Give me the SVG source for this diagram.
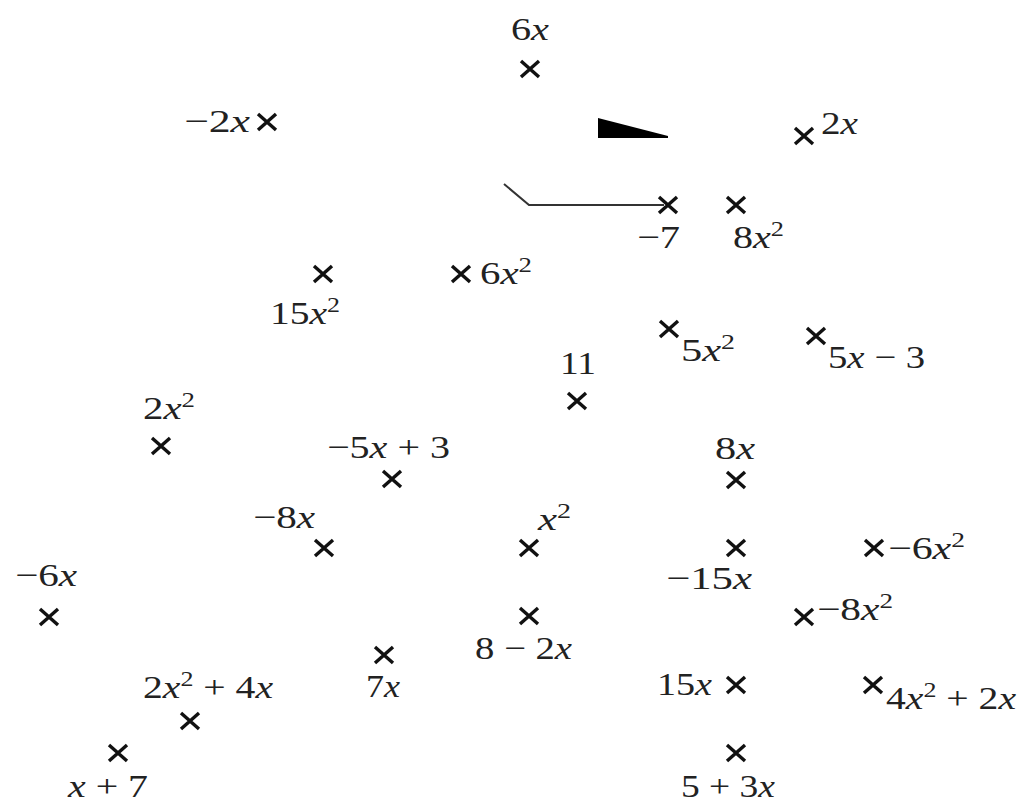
<svg xmlns="http://www.w3.org/2000/svg" width="1025" height="798" viewBox="0 0 1025 798">
<defs>
<style>
text{font-family:"Liberation Serif","DejaVu Serif",serif;font-size:32px;fill:#222}
.i{font-style:italic}
.s{font-size:21px}
.x{stroke:#111;stroke-width:3.4;fill:none}
</style>
<path id="cx" class="x" d="M-9,-8L9,8M9,-8L-9,8"/>
</defs>
<rect width="1025" height="798" fill="#fff"/>
<g id="connectors">
<polyline points="504,184 529,205 664,205" fill="none" stroke="#333" stroke-width="2"/>
<polygon points="598,118 668,136 668,138 598,138" fill="#000"/>
</g>
<g id="n-6x"><use href="#cx" x="530" y="69"/><text x="511" y="40" textLength="38" lengthAdjust="spacingAndGlyphs">6<tspan class="i">x</tspan></text></g>
<g id="n-m2x"><use href="#cx" x="267" y="122"/><text x="184" y="132" textLength="66" lengthAdjust="spacingAndGlyphs">−2<tspan class="i">x</tspan></text></g>
<g id="n-2x"><use href="#cx" x="804" y="136"/><text x="821" y="134" textLength="37" lengthAdjust="spacingAndGlyphs">2<tspan class="i">x</tspan></text></g>
<g id="n-m7"><use href="#cx" x="668" y="205"/><text x="637" y="248" textLength="43" lengthAdjust="spacingAndGlyphs">−7</text></g>
<g id="n-8x2"><use href="#cx" x="736" y="205"/><text x="733" y="248" textLength="51" lengthAdjust="spacingAndGlyphs">8<tspan class="i">x</tspan><tspan class="s" dy="-12">2</tspan></text></g>
<g id="n-15x2"><use href="#cx" x="323" y="274"/><text x="270" y="324" textLength="70" lengthAdjust="spacingAndGlyphs">15<tspan class="i">x</tspan><tspan class="s" dy="-12">2</tspan></text></g>
<g id="n-6x2"><use href="#cx" x="461" y="274"/><text x="480" y="284" textLength="52" lengthAdjust="spacingAndGlyphs">6<tspan class="i">x</tspan><tspan class="s" dy="-12">2</tspan></text></g>
<g id="n-5x2"><use href="#cx" x="669" y="329"/><text x="681" y="361" textLength="54" lengthAdjust="spacingAndGlyphs">5<tspan class="i">x</tspan><tspan class="s" dy="-12">2</tspan></text></g>
<g id="n-5xm3"><use href="#cx" x="816" y="336"/><text x="828" y="368" textLength="97" lengthAdjust="spacingAndGlyphs">5<tspan class="i">x</tspan> − 3</text></g>
<g id="n-11"><use href="#cx" x="577" y="401"/><text x="560" y="374" textLength="36" lengthAdjust="spacingAndGlyphs">11</text></g>
<g id="n-2x2"><use href="#cx" x="161" y="446"/><text x="143" y="419" textLength="52" lengthAdjust="spacingAndGlyphs">2<tspan class="i">x</tspan><tspan class="s" dy="-12">2</tspan></text></g>
<g id="n-m5xp3"><use href="#cx" x="392" y="479"/><text x="327" y="458" textLength="123" lengthAdjust="spacingAndGlyphs">−5<tspan class="i">x</tspan> + 3</text></g>
<g id="n-8x"><use href="#cx" x="736" y="480"/><text x="715" y="459" textLength="40" lengthAdjust="spacingAndGlyphs">8<tspan class="i">x</tspan></text></g>
<g id="n-m8x"><use href="#cx" x="324" y="548"/><text x="253" y="528" textLength="62" lengthAdjust="spacingAndGlyphs">−8<tspan class="i">x</tspan></text></g>
<g id="n-x2"><use href="#cx" x="529" y="548"/><text x="538" y="530" textLength="33" lengthAdjust="spacingAndGlyphs"><tspan class="i">x</tspan><tspan class="s" dy="-12">2</tspan></text></g>
<g id="n-m15x"><use href="#cx" x="736" y="548"/><text x="666" y="589" textLength="86" lengthAdjust="spacingAndGlyphs">−15<tspan class="i">x</tspan></text></g>
<g id="n-m6x2"><use href="#cx" x="874" y="548"/><text x="888" y="559" textLength="77" lengthAdjust="spacingAndGlyphs">−6<tspan class="i">x</tspan><tspan class="s" dy="-12">2</tspan></text></g>
<g id="n-m6x"><use href="#cx" x="49" y="617"/><text x="15" y="586" textLength="62" lengthAdjust="spacingAndGlyphs">−6<tspan class="i">x</tspan></text></g>
<g id="n-8m2x"><use href="#cx" x="529" y="616"/><text x="475" y="659" textLength="97" lengthAdjust="spacingAndGlyphs">8 − 2<tspan class="i">x</tspan></text></g>
<g id="n-m8x2"><use href="#cx" x="804" y="617"/><text x="817" y="620" textLength="76" lengthAdjust="spacingAndGlyphs">−8<tspan class="i">x</tspan><tspan class="s" dy="-12">2</tspan></text></g>
<g id="n-7x"><use href="#cx" x="384" y="655"/><text x="366" y="697" textLength="34" lengthAdjust="spacingAndGlyphs">7<tspan class="i">x</tspan></text></g>
<g id="n-2x2p4x"><use href="#cx" x="190" y="721"/><text x="143" y="698" textLength="130" lengthAdjust="spacingAndGlyphs">2<tspan class="i">x</tspan><tspan class="s" dy="-12">2</tspan><tspan dy="12"> + 4</tspan><tspan class="i">x</tspan></text></g>
<g id="n-15x"><use href="#cx" x="736" y="685"/><text x="657" y="695" textLength="55" lengthAdjust="spacingAndGlyphs">15<tspan class="i">x</tspan></text></g>
<g id="n-4x2p2x"><use href="#cx" x="873" y="685"/><text x="886" y="709" textLength="130" lengthAdjust="spacingAndGlyphs">4<tspan class="i">x</tspan><tspan class="s" dy="-12">2</tspan><tspan dy="12"> + 2</tspan><tspan class="i">x</tspan></text></g>
<g id="n-xp7"><use href="#cx" x="118" y="753"/><text x="68" y="797" textLength="80" lengthAdjust="spacingAndGlyphs"><tspan class="i">x</tspan> + 7</text></g>
<g id="n-5p3x"><use href="#cx" x="736" y="753"/><text x="681" y="797" textLength="94" lengthAdjust="spacingAndGlyphs">5 + 3<tspan class="i">x</tspan></text></g>
</svg>
